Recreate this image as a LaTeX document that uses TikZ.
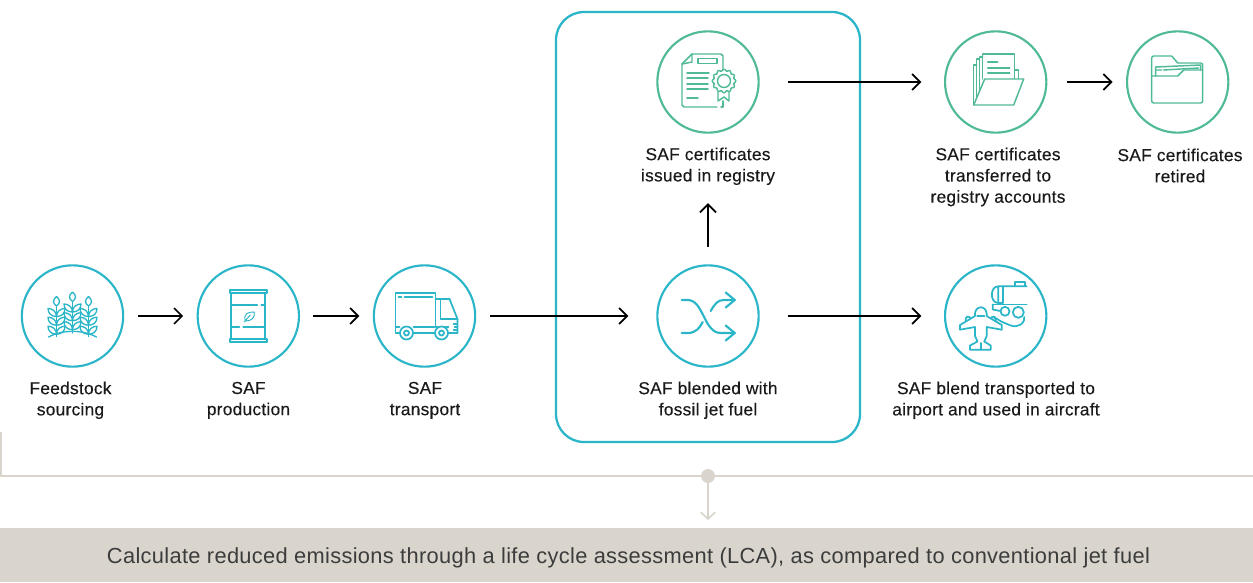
\documentclass[tikz,border=0pt]{standalone}
\usepackage{fontspec}
\setmainfont[LetterSpace=1.5]{Liberation Sans}
\newfontfamily\lblfont[LetterSpace=1.5,FakeBold=0.25]{Liberation Sans}
\usetikzlibrary{arrows.meta}
\definecolor{teal}{HTML}{2BB5C8}
\definecolor{grn}{HTML}{4FB998}
\definecolor{sand}{HTML}{D9D5CD}
\definecolor{ink}{HTML}{1A1A1A}
\tikzset{
  x=0.75pt,y=-0.75pt,
  circ/.style={circle,draw=#1,line width=1.6pt,minimum size=76pt,inner sep=0pt,fill=none},
  lbl/.style={align=center,text=ink,font=\lblfont\fontsize{13}{15.9}\selectfont,inner sep=0pt},
  flow/.style={draw=black,line width=1.3pt,-{Straight Barb[length=6pt,width=12pt,line width=1.3pt]}},
  ict/.style={draw=teal,line width=1.3pt,line join=round,line cap=round},
  icg/.style={draw=grn,line width=1.1pt,line join=round,line cap=round},
}
\begin{document}
\begin{tikzpicture}
\useasboundingbox (0,0) rectangle (1253,582);
% band
\fill[sand] (0,528) rectangle (1253,582);
\node[inner sep=0pt,text=ink!85,font=\fontsize{16.37}{20}\selectfont] (band) at (628.5,558) {Calculate reduced emissions through a life cycle assessment (LCA), as compared to conventional jet fuel};
% bracket
\coordinate (bl) at (0.7,432);
\coordinate (br) at (1253,476);
\draw[sand,line width=1.5pt] (bl) -- (0.7,476) -- (br);
\node[circle,fill=sand,minimum size=10.5pt,inner sep=0pt] (dot) at (708,476) {};
\coordinate (dn) at (708,520);
\draw[sand,line width=1.2pt,-{Straight Barb[length=5pt,width=11pt,line width=1.2pt]}] (dot) -- (dn);
% box
\node[draw=teal,line width=1.7pt,rounded corners=21pt,minimum width=228pt,minimum height=322.5pt,inner sep=0pt] (box) at (708,227) {};
% circles
\node[circ=teal] (a) at (72.5,316) {};
\node[circ=teal] (b) at (248.3,316) {};
\node[circ=teal] (c) at (424.5,316) {};
\node[circ=teal] (d) at (708,316) {};
\node[circ=teal] (e) at (995.7,316) {};
\node[circ=grn] (f) at (708,82) {};
\node[circ=grn] (g) at (995.7,82) {};
\node[circ=grn] (h) at (1177.7,82) {};
% labels
\node[lbl] (la) at (70.5,400.3) {Feedstock\\sourcing};
\node[lbl] (lb) at (248.5,400.3) {SAF\\production};
\node[lbl] (lc) at (425,400.3) {SAF\\transport};
\node[lbl] (ld) at (708,400.3) {SAF blended with\\fossil jet fuel};
\node[lbl] (le) at (996,400.3) {SAF blend transported to\\airport and used in aircraft};
\node[lbl] (lf) at (708,166.3) {SAF certificates\\issued in registry};
\node[lbl] (lg) at (998,177) {SAF certificates\\transferred to\\registry accounts};
\node[lbl] (lh) at (1180,165.5) {SAF certificates\\retired};
% arrows
\draw[flow,shorten <=10pt,shorten >=10pt] (a) -- (b);
\draw[flow,shorten <=10pt,shorten >=10pt] (b) -- (c);
\draw[flow,shorten <=10pt,shorten >=21pt] (c) -- (d);
\draw[flow,shorten <=21pt,shorten >=17pt] (d) -- (e);
\draw[flow,shorten <=13pt,shorten >=52pt] (d) -- (f);
\draw[flow,shorten <=21pt,shorten >=17pt] (f) -- (g);
\draw[flow,shorten <=15pt,shorten >=10pt] (g) -- (h);
% wheat
\begin{scope}[shift={(72.5,316)}]
 \foreach \dx/\dy/\e in {-16/4.5/16,0/0/17,16/4.5/16}{
  \begin{scope}[shift={(\dx,\dy)}]
   \draw[ict,line width=1pt] (0,-24) .. controls (-4,-20.5) and (-4,-17.5) .. (0,-14.5) .. controls (4,-17.5) and (4,-20.5) .. (0,-24);
   \draw[ict,line width=1pt] (0,-14.5) -- (0,\e);
   \foreach \b in {-4,4.7,13.7}{
    \draw[ict,line width=1pt] (0,\b) .. controls (-5,\b) and (-8.5,\b-3) .. (-8.5,\b-8) .. controls (-4,\b-8) and (0,\b-5) .. (0,\b);
    \draw[ict,line width=1pt] (0,\b) .. controls (5,\b) and (8.5,\b-3) .. (8.5,\b-8) .. controls (4,\b-8) and (0,\b-5) .. (0,\b);
   }
  \end{scope}}
 \draw[ict,line width=1pt] (-24,21) .. controls (-10,13.5) and (10,13.5) .. (24,21);
\end{scope}
% barrel
\begin{scope}[shift={(248.3,316)}]
 \draw[ict] (-18.5,-26) rectangle (18.5,-23);
 \draw[ict] (-18.5,23) rectangle (18.5,26);
 \draw[ict] (-17,-23) -- (-17,23) (17,-23) -- (17,23);
 \draw[ict] (-17,-11) -- (9,-11) (13,-11) -- (17,-11);
 \draw[ict] (-17,11) -- (-9,11) (-5,11) -- (17,11);
 \draw[ict,line width=.7pt] (-3,5) .. controls (-5,-3) and (0,-4) .. (6,-4) .. controls (7,2) and (3,5) .. (-3,5) (-4,6) -- (2,-1);
\end{scope}
% truck
\begin{scope}[shift={(424.5,316)}]
 \draw[ict] (-29,11) -- (-29,-23) -- (11,-23) -- (11,11) -- (24,11);
 \draw[ict] (-26,-19) -- (-23,-19) (-20,-19) -- (8,-19);
 \draw[ict] (11,-17) -- (25,-17) -- (33,3) -- (33,17) -- (24,17);
 \draw[ict] (16,-17) -- (16,3) -- (33,3);
 \draw[ict] (-25,17) -- (-29,17) -- (-29,11) (-29,11) -- (-25,11);
 \draw[ict] (-11,17) -- (10,17) (-11,11) -- (10,11);
 \draw[ict,fill=white] (-18,17) circle (6.5);
 \draw[ict] (-18,17) circle (2.5);
 \draw[ict,fill=white] (17,17) circle (6.5);
 \draw[ict] (17,17) circle (2.5);
 \draw[ict,line width=.8pt] (29,8) -- (33,8) (30,11) -- (33,11) (29,14) -- (33,14);
\end{scope}
% shuffle
\begin{scope}[shift={(707.7,316)}]
 \draw[ict,line width=1.6pt] (-26,-16) -- (-20,-16) .. controls (-4,-16) and (-4,17) .. (13,17) -- (27,17);
 \draw[ict,line width=1.6pt] (-26,17) -- (-20,17) .. controls (-12,17) and (-8,12) .. (-5,6);
 \draw[ict,line width=1.6pt] (3,-5) .. controls (7,-12) and (10,-16) .. (16,-16) -- (27,-16);
 \draw[ict,line width=1.6pt] (18,-23.5) -- (27,-16) -- (18,-8.5);
 \draw[ict,line width=1.6pt] (18,9.5) -- (27,17) -- (18,24.5);
\end{scope}
% plane and tanker
\begin{scope}[shift={(995.7,316)}]
 \draw[ict] (2.6,-29.7) .. controls (-6,-29.7) and (-6,-13) .. (2.6,-13) -- (2.6,-29.7) -- (31,-29.7);
 \draw[ict] (7,-29.7) -- (7,-13) (2.6,-13) -- (7,-13) (-3,-11.5) -- (31,-11.5);
 \draw[ict] (19,-29.7) -- (19,-34) -- (29,-34) -- (29,-29.7);
 \draw[ict] (-3,-11.5) -- (-3,-6.5) -- (4.8,-5);
 \draw[ict] (9.3,-4.7) circle (4.5) (22.6,-3.7) circle (5.5);
 \draw[ict] (-1.4,2) .. controls (3,3) and (5,6) .. (9,7) .. controls (14,9) and (17,11) .. (21,10) .. controls (26,9) and (29,6) .. (28.5,1);
 % plane
 \draw[ict] (-20.7,0) -- (-20.7,-2) .. controls (-20.7,-6) and (-18,-8.7) .. (-14.8,-8.7) .. controls (-11.7,-8.7) and (-9,-6) .. (-9,-2) -- (-9,0) -- (6,9) -- (6,13.7) -- (-9,11) -- (-9,20) -- (-11.5,25.5) -- (-5,29.5) -- (-5,33.7) -- (-25.7,33.7) -- (-25.7,29.5) -- (-18.2,25.5) -- (-20.7,20) -- (-20.7,11) -- (-35.7,13.7) -- (-35.7,9) -- cycle;
 \draw[ict] (-14.8,27) -- (-14.8,33.7);
 \draw[ict] (-18.5,0.3) -- (-11.2,0.3);
 \draw[ict] (-30,5) -- (-30,3) .. controls (-30,0) and (-26,0) .. (-25,2.5);
 \draw[ict] (0,5) -- (0,3) .. controls (0,0) and (-4,0) .. (-5,2.5);
\end{scope}
% certificate
\begin{scope}[shift={(708,82)}]
 \draw[icg] (9,25) -- (-24,25) -- (-26,23) -- (-26,-18) -- (-16,-28) -- (13,-28) -- (15,-26) -- (15,-12);
 \draw[icg] (15,19) -- (15,25) -- (13,25);
 \draw[icg] (-16,-28) -- (-16,-20) -- (-26,-18);
 \draw[icg] (-10,-23.5) rectangle (9,-18.5);
 \draw[icg] (-21,-9) -- (1,-9) (-21,-4) -- (0,-4) (-21,2) -- (0,2) (-21,7) -- (0,7) (-21,16) -- (-10,16);
 \draw[icg] (16,-1) circle (6.5);
 \draw[icg] plot[domain=0:360,samples=97,smooth] ({16+(11+0.8*cos(12*\x))*cos(\x)},{-1+(11+0.8*cos(12*\x))*sin(\x)});
 \draw[icg] (10,10) -- (10,19) -- (16,15) -- (21,19) -- (21,10);
\end{scope}
% folder with documents
\begin{scope}[shift={(995.7,82)}]
 \draw[icg] (-22,23) -- (-22,-17) -- (-19,-17) (-19,-23) -- (-19,15);
 \draw[icg] (-19,-23) -- (-16,-23) (-16,-25) -- (-16,8) (-16,-25) -- (-13,-25) (-13,-28) -- (-13,-3) (-13,-28) -- (19,-28) -- (19,-3);
 \draw[icg] (19,-12) -- (23,-12) -- (23,-3);
 \draw[icg,fill=white] (-22,23) -- (-11,-3) -- (28,-3) -- (18,23) -- cycle;
 \draw[icg] (-8,-20) -- (2,-20) (-8,-14) -- (14,-14) (-8,-9) -- (14,-9);
\end{scope}
% folder
\begin{scope}[shift={(1177.7,82)}]
 \draw[icg] (-26,-6) -- (-26,-24) .. controls (-26,-25) and (-25,-26) .. (-24,-26) -- (-6,-26) -- (0,-19) -- (23,-19) .. controls (24,-19) and (25,-18) .. (25,-17) -- (25,19) .. controls (25,20) and (24,21) .. (23,21) -- (-24,21) .. controls (-25,21) and (-26,20) .. (-26,19) -- cycle;
 \draw[icg] (-26,-6) -- (0,-6) -- (6,-12) -- (25,-12);
 \draw[icg] (-22,-6) -- (-22,-15) -- (23,-17) -- (23,-12);
 \draw[icg] (-21,-12) -- (-16,-12) (-14,-12) -- (21,-14);
\end{scope}
\end{tikzpicture}
\end{document}
